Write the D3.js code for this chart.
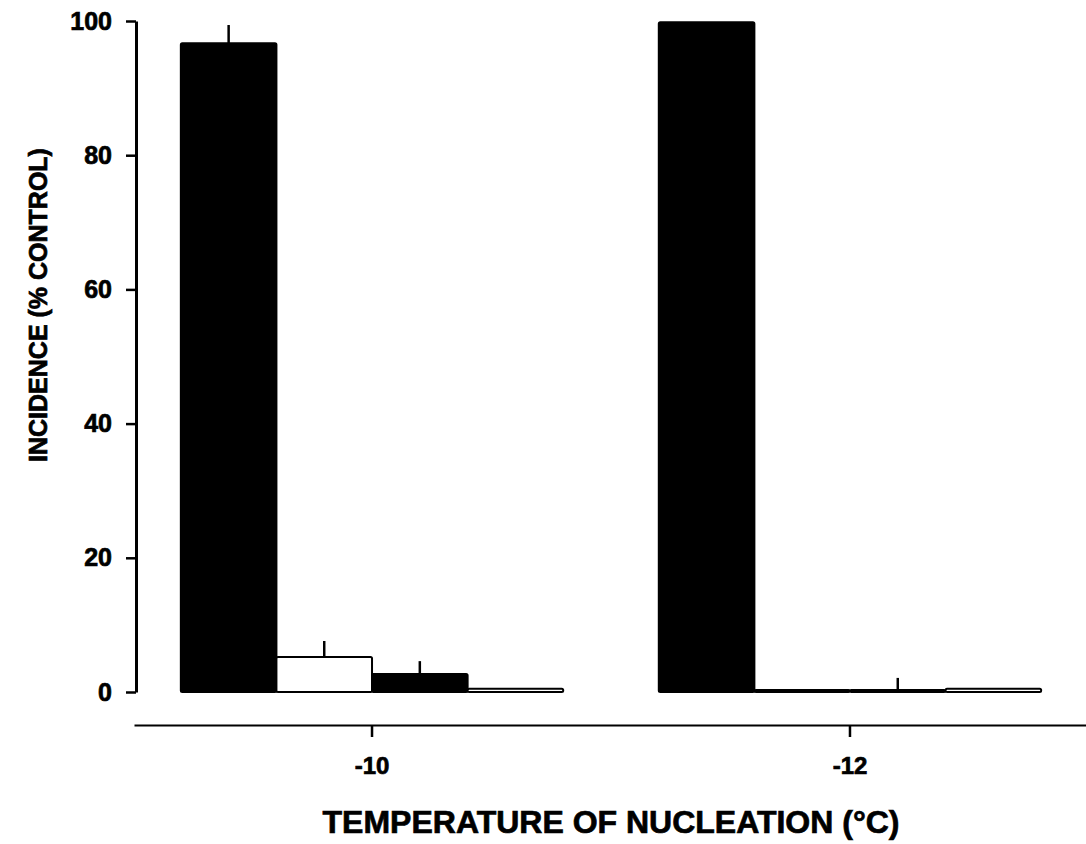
<!DOCTYPE html>
<html>
<head>
<meta charset="utf-8">
<script src="https://cdn.jsdelivr.net/npm/d3@7/dist/d3.min.js"></script>
<style>
  html, body { margin: 0; padding: 0; background: #fff; }
  svg { display: block; }
  text { font-family: "Liberation Sans", Arial, Helvetica, sans-serif; font-weight: bold; fill: #000; stroke: #000; stroke-width: 0.7px; }
</style>
</head>
<body>
<svg id="chart" width="1086" height="844"></svg>
<script>
// ---- data ----
const categories = ["-10", "-12"];
const seriesNames = ["Series A", "Series B", "Series C", "Series D"];
const seriesFills = ["#000", "#fff", "#000", "#fff"];
const valuesA = [96.7, 99.8];
const valuesB = [5.2, 0.3];
const valuesC = [2.7, 0.3];
const valuesD = [0.5, 0.5];
const errorsA = [2.7, 0];
const errorsB = [2.4, 0];
const errorsC = [1.9, 1.8];
const errorsD = [0, 0];
const yTicks = [0, 20, 40, 60, 80, 100];
const yTitle = "INCIDENCE (% CONTROL)";
const xTitle = "TEMPERATURE OF NUCLEATION (°C)";

const seriesValues = [valuesA, valuesB, valuesC, valuesD];
const seriesErrors = [errorsA, errorsB, errorsC, errorsD];

const rows = [];
categories.forEach((c, ci) => {
  seriesNames.forEach((s, si) => {
    rows.push({ cat: c, series: s, fill: seriesFills[si],
                value: seriesValues[si][ci], err: seriesErrors[si][ci] });
  });
});

// ---- scales ----
const svg = d3.select("#chart");
const x = d3.scaleBand().domain(categories).range([134, 1088])
  .paddingInner(0.2).paddingOuter(0.098);
const xs = d3.scaleBand().domain(seriesNames).range([0, x.bandwidth()]).padding(0);
const y = d3.scaleLinear().domain([0, 100]).range([692, 21]);

// ---- bars ----
const g = svg.append("g");
g.selectAll("rect.bar").data(rows).enter().append("rect")
  .attr("class", "bar")
  .attr("x", d => x(d.cat) + xs(d.series))
  .attr("y", d => y(d.value))
  .attr("width", xs.bandwidth())
  .attr("height", d => y(0) - y(d.value))
  .attr("fill", d => d.fill)
  .attr("stroke", "#000")
  .attr("stroke-width", 2)
  .attr("rx", 1.5);

// ---- error bars ----
g.selectAll("line.err").data(rows.filter(d => d.err > 0)).enter().append("line")
  .attr("class", "err")
  .attr("x1", d => x(d.cat) + xs(d.series) + xs.bandwidth() / 2)
  .attr("x2", d => x(d.cat) + xs(d.series) + xs.bandwidth() / 2)
  .attr("y1", d => y(d.value))
  .attr("y2", d => y(d.value + d.err))
  .attr("stroke", "#000")
  .attr("stroke-width", 2.5);

// ---- y axis ----
const yAxis = svg.append("g")
  .attr("transform", "translate(136,0)")
  .call(d3.axisLeft(y).tickValues(yTicks).tickSize(10).tickSizeOuter(0).tickPadding(14));
yAxis.select(".domain").attr("stroke", "#000").attr("stroke-width", 3);
yAxis.selectAll(".tick line").attr("stroke", "#000").attr("stroke-width", 2.5);
yAxis.selectAll(".tick text")
  .style("font-family", '"Liberation Sans", Arial, sans-serif')
  .style("font-weight", "bold").style("font-size", "25px")
  .attr("fill", "#000").attr("stroke", "#000").attr("stroke-width", 0.7);

// ---- x axis ----
const xAxis = svg.append("g")
  .attr("transform", "translate(0,725)")
  .call(d3.axisBottom(x).tickSize(12).tickSizeOuter(0).tickPadding(20));
xAxis.select(".domain").attr("stroke", "#000").attr("stroke-width", 2);
xAxis.selectAll(".tick line").attr("stroke", "#000").attr("stroke-width", 2.5);
xAxis.selectAll(".tick text")
  .style("font-family", '"Liberation Sans", Arial, sans-serif')
  .style("font-weight", "bold").style("font-size", "24px")
  .attr("fill", "#000").attr("stroke", "#000").attr("stroke-width", 0.7);

// ---- titles ----
svg.append("text")
  .attr("transform", "translate(47,305) rotate(-90)")
  .attr("text-anchor", "middle")
  .style("font-size", "25px")
  .text(yTitle);

svg.append("text")
  .attr("x", 611).attr("y", 833)
  .attr("text-anchor", "middle")
  .style("font-size", "32px")
  .text(xTitle);
</script>
</body>
</html>
